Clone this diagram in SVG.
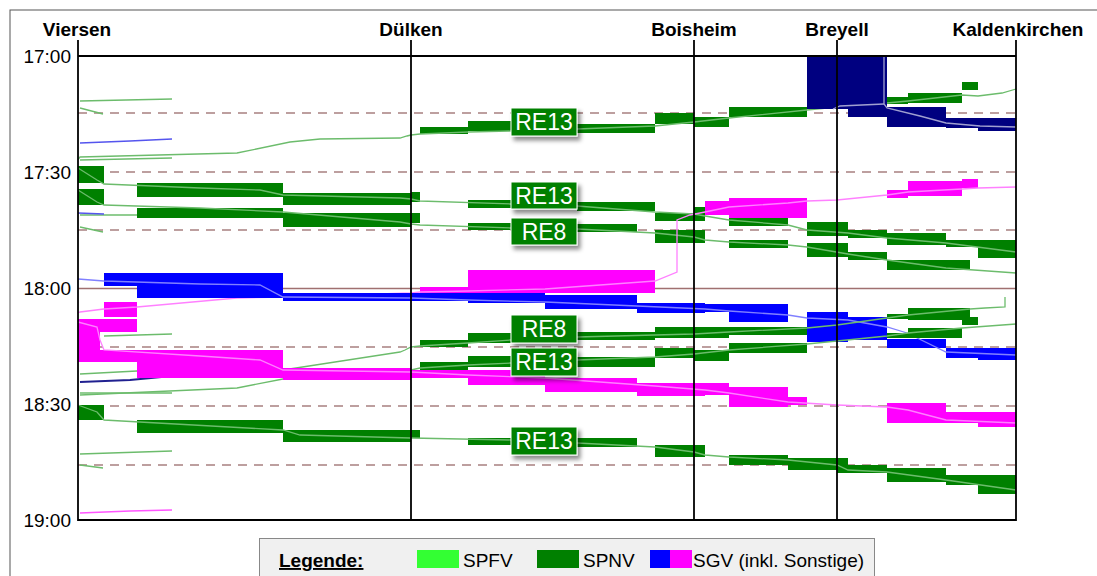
<svg xmlns="http://www.w3.org/2000/svg" width="1097" height="576" viewBox="0 0 1097 576">
<defs>
<filter id="sh" x="-20%" y="-20%" width="150%" height="160%"><feDropShadow dx="3" dy="4" stdDeviation="2.2" flood-color="#000" flood-opacity="0.45"/></filter>
</defs>
<style>
.g rect{fill:#008000}
.g polyline{fill:none;stroke:#6cbc6c;stroke-width:1.3}
.b rect{fill:#0000ff}
.b polyline{fill:none;stroke:#8080ff;stroke-width:1.3}
.n rect{fill:#000080}
.n polyline{fill:none;stroke:#a0a0d0;stroke-width:1.3}
.m rect{fill:#ff00ff}
.m polyline{fill:none;stroke:#ff80ff;stroke-width:1.3}
.dash{stroke:#a88080;stroke-width:1.6;stroke-dasharray:9,7}
.st{font-family:"Liberation Sans",Arial,sans-serif;font-weight:bold;font-size:19px;fill:#000;text-anchor:middle}
.tk{font-family:"Liberation Sans",Arial,sans-serif;font-size:19px;fill:#000;text-anchor:end}
.lg{font-family:"Liberation Sans",Arial,sans-serif;font-size:19px;fill:#000}
.lbl rect{fill:#008000;stroke:#fff;stroke-width:1}
.lbl text{font-family:"Liberation Sans",Arial,sans-serif;font-size:23px;fill:#fff;text-anchor:middle}
.ax{stroke:#000;stroke-width:1.8}
</style>
<rect x="10" y="10" width="1100" height="600" fill="#fff" stroke="#555" stroke-width="1"/>
<g id="grid">
<line class="dash" x1="78" y1="113" x2="1016" y2="113"/>
<line class="dash" x1="78" y1="172" x2="1016" y2="172"/>
<line class="dash" x1="78" y1="230" x2="1016" y2="230"/>
<line x1="78" y1="288.5" x2="1016" y2="288.5" stroke="#a07070" stroke-width="1.6"/>
<line class="dash" x1="78" y1="347" x2="1016" y2="347"/>
<line class="dash" x1="78" y1="406" x2="1016" y2="406"/>
<line class="dash" x1="78" y1="465" x2="1016" y2="465"/>
</g>
<g id="trains">
<g id="spfv-left" class="g">
<polyline points="80,101 126,100 172,99"/>
<polyline points="80,108 103,114"/>
<polyline points="80,160 172,158"/>
<polyline points="80,215 172,215"/>
<polyline points="80,227 103,232"/>
<polyline points="104,336 172,334"/>
<polyline points="80,393 172,393"/>
<polyline points="80,454 172,451"/>
<polyline points="80,465 103,468"/>
</g>
<g id="misc-left">
<polyline points="80,143 130,141 172,139" fill="none" stroke="#5555ee" stroke-width="1.5"/>
<polyline points="78,213 104,214" fill="none" stroke="#5555ee" stroke-width="1.5"/>
<polyline points="80,382 130,380 172,376" fill="none" stroke="#202090" stroke-width="2"/>
<polyline points="80,513 130,511 172,510" fill="none" stroke="#ff55ff" stroke-width="1.5"/>
</g>
<g id="t-re13-w1" class="g">
<rect x="420" y="127" width="48" height="7"/>
<rect x="468" y="121" width="43" height="10"/>
<rect x="577" y="124" width="78" height="9"/>
<rect x="655" y="113" width="39" height="11"/>
<rect x="694" y="117" width="35" height="10"/>
<rect x="729" y="107" width="78" height="10"/>
<rect x="887" y="97" width="21" height="7"/>
<rect x="908" y="93" width="54" height="10"/>
<rect x="962" y="82" width="16" height="8"/>
<polyline points="1016,89 1002,93 978,96 962,95 908,101 887,103 860,105 837,107 807,110 729,118 694,122 655,126 577,129 511,131 468,132 445,133 420,134 411,135 407,136 400,138 320,139 290,142 237,153 80,157 78,160"/>
</g>
<g id="t-navy" class="n">
<rect x="807" y="56" width="80" height="53"/>
<rect x="848" y="104" width="39" height="13"/>
<rect x="887" y="107" width="59" height="20"/>
<rect x="946" y="118" width="70" height="10"/>
<rect x="978" y="120" width="38" height="11"/>
<polyline points="884,56 884,104 887,108 920,116 946,123 980,126 1016,127"/>
<polyline points="833,109 840,106 884,104"/>
</g>
<g id="t-re13-e1" class="g">
<rect x="78" y="166" width="26" height="17"/>
<rect x="137" y="183" width="146" height="14"/>
<rect x="283" y="193" width="128" height="12"/>
<rect x="411" y="192" width="9" height="10"/>
<rect x="468" y="200" width="43" height="8"/>
<rect x="577" y="202" width="78" height="9"/>
<rect x="655" y="213" width="50" height="8"/>
<rect x="694" y="207" width="11" height="9"/>
<rect x="729" y="217" width="59" height="9"/>
<rect x="807" y="222" width="41" height="14"/>
<rect x="848" y="230" width="39" height="8"/>
<rect x="887" y="233" width="59" height="12"/>
<rect x="946" y="240" width="70" height="7"/>
<rect x="978" y="247" width="38" height="11"/>
<polyline points="78,168 97,180 104,184 200,188 260,190 283,195 400,198 411,199 420,201 511,204 577,206 655,212 694,214 705,216 729,220 788,225 807,230 848,233 887,238 946,243 1016,252"/>
</g>
<g id="t-re8-e1" class="g">
<rect x="78" y="189" width="26" height="16"/>
<rect x="137" y="208" width="146" height="10"/>
<rect x="283" y="213" width="128" height="14"/>
<rect x="411" y="213" width="9" height="10"/>
<rect x="468" y="223" width="43" height="7"/>
<rect x="577" y="224" width="60" height="8"/>
<rect x="655" y="230" width="50" height="13"/>
<rect x="729" y="240" width="59" height="8"/>
<rect x="807" y="243" width="41" height="14"/>
<rect x="848" y="252" width="39" height="8"/>
<rect x="887" y="260" width="83" height="10"/>
<polyline points="78,190 97,202 104,205 200,208 283,212 400,222 411,224 420,225 511,228 577,229 655,233 694,237 705,240 729,242 788,245 807,247 848,254 887,260 946,268 1016,273"/>
</g>
<g id="t-sgv-w1" class="m">
<rect x="962" y="179" width="16" height="9"/>
<rect x="908" y="181" width="54" height="15"/>
<rect x="887" y="190" width="21" height="8"/>
<rect x="729" y="198" width="78" height="20"/>
<rect x="705" y="201" width="24" height="14"/>
<rect x="468" y="270" width="187" height="23"/>
<rect x="420" y="287" width="48" height="6"/>
<rect x="104" y="302" width="33" height="15"/>
<polyline points="1016,187 978,188 962,189 908,192 887,195 837,200 807,201 788,203 729,207 705,212 690,215 677,220 677,272 655,281 600,285 545,289 468,291 420,292 411,293 283,297 237,298 137,307 104,309 80,312 78,313"/>
</g>
<g id="t-sgv-e1" class="b">
<rect x="104" y="273" width="179" height="13"/>
<rect x="137" y="286" width="146" height="12"/>
<rect x="283" y="293" width="128" height="8"/>
<rect x="411" y="293" width="134" height="8"/>
<rect x="468" y="296" width="77" height="7"/>
<rect x="545" y="295" width="92" height="14"/>
<rect x="637" y="303" width="68" height="10"/>
<rect x="705" y="304" width="83" height="8"/>
<rect x="729" y="312" width="59" height="10"/>
<rect x="807" y="312" width="41" height="30"/>
<rect x="848" y="317" width="39" height="23"/>
<rect x="887" y="339" width="59" height="9"/>
<rect x="946" y="348" width="70" height="10"/>
<rect x="978" y="353" width="38" height="7"/>
<polyline points="78,279 104,281 200,284 260,285 283,297 411,298 468,300 545,302 637,306 705,309 729,311 788,315 807,318 848,320 887,327 907,333 946,352 1016,355"/>
</g>
<g id="t-re8-w2" class="g">
<rect x="962" y="317" width="16" height="8"/>
<rect x="908" y="308" width="62" height="12"/>
<rect x="887" y="314" width="21" height="5"/>
<rect x="729" y="327" width="78" height="8"/>
<rect x="655" y="327" width="74" height="11"/>
<rect x="577" y="332" width="78" height="8"/>
<rect x="468" y="333" width="43" height="10"/>
<rect x="420" y="340" width="48" height="7"/>
<polyline points="1005,297 1005,307 985,308 970,309 908,315 887,318 837,325 807,328 729,332 694,334 655,335 577,337 511,340 468,343 420,346 411,347 405,350 400,352 283,370 137,371 80,374"/>
</g>
<g id="t-re13-w2" class="g">
<rect x="908" y="328" width="54" height="10"/>
<rect x="887" y="333" width="21" height="5"/>
<rect x="729" y="343" width="78" height="10"/>
<rect x="655" y="348" width="39" height="10"/>
<rect x="694" y="350" width="35" height="11"/>
<rect x="577" y="357" width="78" height="10"/>
<rect x="468" y="356" width="43" height="11"/>
<rect x="420" y="362" width="48" height="8"/>
<polyline points="1016,324 962,328 908,333 887,336 837,341 807,344 729,350 694,354 655,357 577,360 511,363 468,365 420,368 411,370 283,379 237,388 80,395"/>
</g>
<g id="t-sgv-e2" class="m">
<rect x="78" y="319" width="59" height="13"/>
<rect x="78" y="332" width="22" height="18"/>
<rect x="78" y="350" width="205" height="12"/>
<rect x="137" y="360" width="146" height="18"/>
<rect x="283" y="368" width="128" height="12"/>
<rect x="411" y="370" width="134" height="8"/>
<rect x="468" y="378" width="77" height="7"/>
<rect x="545" y="378" width="92" height="14"/>
<rect x="637" y="383" width="68" height="13"/>
<rect x="705" y="383" width="24" height="12"/>
<rect x="729" y="387" width="59" height="20"/>
<rect x="788" y="397" width="19" height="8"/>
<rect x="887" y="403" width="59" height="20"/>
<rect x="946" y="412" width="70" height="11"/>
<rect x="978" y="422" width="38" height="5"/>
<polyline points="78,322 97,327 100,340 104,350 200,356 260,360 283,370 411,372 468,375 545,378 600,382 655,386 705,390 729,393 788,402 837,405 887,407 908,410 946,420 1016,423"/>
</g>
<g id="t-re13-e2" class="g">
<rect x="78" y="405" width="26" height="15"/>
<rect x="137" y="420" width="146" height="13"/>
<rect x="283" y="430" width="128" height="12"/>
<rect x="411" y="430" width="9" height="8"/>
<rect x="468" y="438" width="43" height="7"/>
<rect x="577" y="438" width="60" height="9"/>
<rect x="655" y="445" width="50" height="12"/>
<rect x="729" y="455" width="59" height="10"/>
<rect x="788" y="458" width="49" height="12"/>
<rect x="837" y="458" width="11" height="15"/>
<rect x="848" y="465" width="39" height="8"/>
<rect x="887" y="468" width="59" height="14"/>
<rect x="946" y="475" width="70" height="10"/>
<rect x="978" y="482" width="38" height="12"/>
<polyline points="78,405 97,412 104,420 283,430 300,435 411,438 511,440 577,443 655,447 694,452 705,455 729,457 788,460 837,465 848,470 887,472 946,480 1016,490"/>
</g>
</g>
<g id="frame">
<line class="ax" x1="78" y1="56" x2="1016" y2="56"/>
<line class="ax" x1="78" y1="520" x2="1016" y2="520"/>
<line class="ax" x1="78" y1="40" x2="78" y2="521"/>
<line class="ax" x1="411" y1="40" x2="411" y2="521"/>
<line class="ax" x1="694" y1="40" x2="694" y2="521"/>
<line class="ax" x1="837" y1="40" x2="837" y2="521"/>
<line class="ax" x1="1016" y1="40" x2="1016" y2="521"/>
</g>
<g id="stations">
<text class="st" x="77" y="36">Viersen</text>
<text class="st" x="411" y="36">Dülken</text>
<text class="st" x="694" y="36">Boisheim</text>
<text class="st" x="837" y="36">Breyell</text>
<text class="st" x="1018" y="36">Kaldenkirchen</text>
</g>
<g id="times">
<text class="tk" x="71" y="63">17:00</text>
<text class="tk" x="71" y="179">17:30</text>
<text class="tk" x="71" y="295">18:00</text>
<text class="tk" x="71" y="411">18:30</text>
<text class="tk" x="71" y="527">19:00</text>
</g>
<g id="labels">
<g class="lbl" id="lbl1"><rect x="511" y="108" width="66" height="28" filter="url(#sh)"/><text x="544" y="130">RE13</text></g>
<g class="lbl" id="lbl2"><rect x="511" y="182" width="66" height="27" filter="url(#sh)"/><text x="544" y="204">RE13</text></g>
<g class="lbl" id="lbl3"><rect x="511" y="218" width="66" height="27" filter="url(#sh)"/><text x="544" y="240">RE8</text></g>
<g class="lbl" id="lbl4"><rect x="511" y="315" width="66" height="28" filter="url(#sh)"/><text x="544" y="337">RE8</text></g>
<g class="lbl" id="lbl5"><rect x="511" y="348" width="66" height="28" filter="url(#sh)"/><text x="544" y="370">RE13</text></g>
<g class="lbl" id="lbl6"><rect x="511" y="427" width="66" height="28" filter="url(#sh)"/><text x="544" y="449">RE13</text></g>
</g>
<g id="legend">
<rect x="259.5" y="538.5" width="615" height="45" fill="#f0f0f0" stroke="#888" stroke-width="1"/>
<text class="lg" x="279" y="567" font-weight="bold" text-decoration="underline">Legende:</text>
<rect x="417" y="550" width="42" height="18" fill="#33ff33"/>
<text class="lg" x="463" y="567">SPFV</text>
<rect x="537" y="550" width="42" height="18" fill="#008000"/>
<text class="lg" x="583" y="567">SPNV</text>
<rect x="650" y="550" width="20" height="18" fill="#0000ff"/>
<rect x="670" y="550" width="22" height="18" fill="#ff00ff"/>
<text class="lg" x="693" y="567">SGV (inkl. Sonstige)</text>
</g>
</svg>
